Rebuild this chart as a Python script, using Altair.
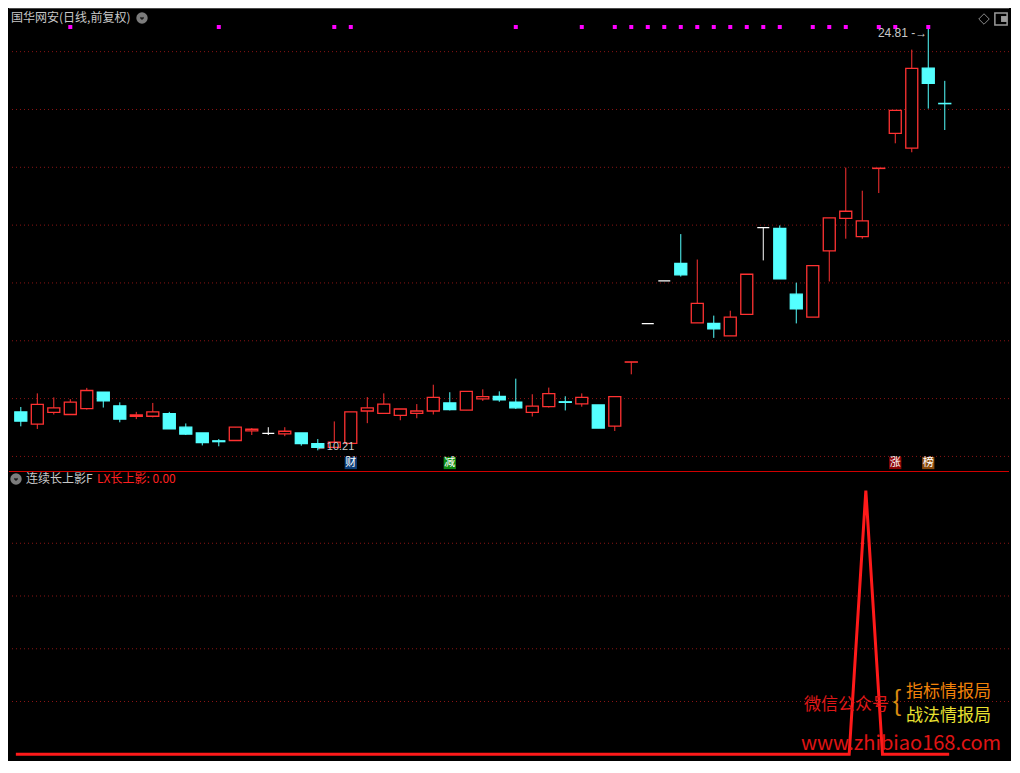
import altair as alt
import pandas as pd

# ---- data ----
opens = [11.54, 11.12, 11.52, 11.45, 11.65, 12.22, 11.75, 11.39, 11.39, 11.48,
         11.01, 10.81, 10.54, 10.55, 10.88, 10.80, 10.78, 10.81, 10.44, 10.31,
         10.45, 11.57, 11.49, 11.42, 11.49, 11.57, 11.85, 11.60, 11.99, 12.08,
         11.88, 11.52, 11.72, 11.89, 11.82, 11.78, 11.05, 13.26, 14.59, 16.07,
         16.68, 14.62, 14.60, 14.17, 14.91, 17.91, 17.89, 15.61, 14.82, 17.11,
         18.23, 17.60, 19.96, 21.17, 20.66, 23.43, 22.21]
closes = [11.22, 11.80, 11.68, 11.88, 12.28, 11.92, 11.29, 11.44, 11.54, 10.95,
          10.77, 10.48, 10.51, 11.01, 10.94, 10.80, 10.87, 10.44, 10.31, 10.49,
          11.54, 11.68, 11.81, 11.64, 11.57, 12.04, 11.62, 12.25, 12.07, 11.96,
          11.68, 11.74, 12.17, 11.87, 12.04, 10.98, 12.07, 13.27, 14.59, 16.07,
          16.28, 15.29, 14.41, 14.82, 16.30, 17.91, 16.14, 15.10, 16.60, 18.25,
          18.48, 18.15, 19.97, 21.97, 23.42, 22.90, 22.20]
highs = [11.71, 12.18, 12.04, 11.98, 12.37, 12.22, 11.87, 11.54, 11.85, 11.54,
         11.14, 10.81, 10.60, 11.01, 10.98, 11.01, 11.01, 10.81, 10.60, 11.21,
         11.54, 12.05, 12.18, 11.64, 11.81, 12.48, 12.22, 12.25, 12.32, 12.25,
         12.69, 12.15, 12.38, 12.08, 12.18, 11.78, 12.07, 13.27, 14.59, 16.07,
         17.69, 16.81, 14.87, 15.04, 16.30, 17.91, 17.99, 16.01, 16.60, 18.25,
         19.99, 19.19, 19.97, 21.97, 24.07, 24.81, 22.99]
lows = [11.04, 10.95, 11.45, 11.45, 11.62, 11.69, 11.18, 11.29, 11.35, 10.95,
        10.74, 10.38, 10.35, 10.55, 10.74, 10.74, 10.70, 10.37, 10.21, 10.31,
        10.45, 11.15, 11.49, 11.25, 11.32, 11.45, 11.59, 11.60, 11.92, 11.89,
        11.64, 11.38, 11.69, 11.59, 11.72, 10.98, 10.88, 12.84, 14.59, 16.07,
        16.22, 14.62, 14.10, 14.17, 14.91, 16.78, 16.14, 14.60, 14.82, 16.05,
        17.53, 17.53, 19.11, 20.83, 20.52, 22.03, 21.29]

lx_values = [0] * 51 + [1] + [0] * 5          # LX长上影 indicator

signal_dots = [3, 12, 19, 20, 30, 34, 36, 37, 38, 39, 40, 41, 42, 43, 44, 45, 46,
               48, 49, 50, 52, 53, 55]

marker_idx = [20, 26, 53, 55]
marker_txt = ["财", "减", "涨", "榜"]
marker_kind = ["cai", "jian", "zhang", "bang"]

main_grid = [10, 12, 14, 16, 18, 20, 22, 24]
low_grid = [0.2, 0.4, 0.6, 0.8]

title_main = "国华网安(日线,前复权)"
title_low = "连续长上影F"
title_low_val = "LX长上影: 0.00"

# ---- frames ----
n = len(opens)
df = pd.DataFrame({"i": list(range(n)), "O": opens, "C": closes, "H": highs, "L": lows})
df["dir"] = ["up" if c > o else ("down" if c < o else "flat") for o, c in zip(opens, closes)]
dots_df = pd.DataFrame({"i": signal_dots})
mk_df = pd.DataFrame({"i": marker_idx, "t": marker_txt, "k": marker_kind})
lx_df = pd.DataFrame({"i": list(range(n)), "v": lx_values})

W = 1000
H1 = 462
H2 = 288
FONT = "Noto Sans CJK SC"
RED = "#ff3232"
CYAN = "#54ffff"

xs = alt.Scale(domain=[-0.412, 59.59], nice=False, zero=False)
ys = alt.Scale(domain=[9.53, 25.51], nice=False, zero=False)
ys2 = alt.Scale(domain=[-0.018, 1.074], nice=False, zero=False)
X = alt.X("i:Q", scale=xs, axis=None)

dir_dom = ["up", "down", "flat"]

grid_m = alt.Chart(pd.DataFrame({"g": main_grid})).mark_rule(
    color="#8a1414", strokeDash=[1, 3], strokeWidth=1
).encode(y=alt.Y("g:Q", scale=ys, axis=None))

top_line = alt.Chart(pd.DataFrame({"a": [0]})).mark_rule(color="#4a4a4a").encode(y=alt.value(0.5))

wicks = alt.Chart(df).mark_rule(strokeWidth=1).encode(
    x=X,
    y=alt.Y("L:Q", scale=ys, axis=None),
    y2="H:Q",
    stroke=alt.Stroke("dir:N", scale=alt.Scale(domain=dir_dom, range=[RED, CYAN, "#ffffff"]), legend=None),
)

bodies = alt.Chart(df).mark_bar(size=12, strokeWidth=1.3).encode(
    x=X,
    y=alt.Y("O:Q", scale=ys, axis=None),
    y2="C:Q",
    fill=alt.Fill("dir:N", scale=alt.Scale(domain=dir_dom, range=["#000000", CYAN, "#ffffff"]), legend=None),
    stroke=alt.Stroke("dir:N", scale=alt.Scale(domain=dir_dom, range=[RED, CYAN, "#ffffff"]), legend=None),
)

dots = alt.Chart(dots_df).mark_square(size=16, color="#ff00ff", opacity=1).encode(x=X, y=alt.value(19))

mk_bg = alt.Chart(mk_df).mark_square(size=150, opacity=1).encode(
    x=X, y=alt.value(455),
    color=alt.Color("k:N", scale=alt.Scale(domain=marker_kind,
                    range=["#0d3d78", "#0e8a12", "#8e0606", "#8a4a0c"]), legend=None),
)
mk_tx = alt.Chart(mk_df).mark_text(font=FONT, fontSize=11, color="#ffffff", baseline="middle").encode(
    x=X, y=alt.value(455), text="t:N")

hi_df = pd.DataFrame({"i": [55], "v": [24.81], "t": ["24.81 -→"]})
hi_lab = alt.Chart(hi_df).mark_text(font="Liberation Sans", fontSize=12, color="#c8c8c8",
                                    align="right", baseline="middle", dx=-1, dy=5).encode(
    x=X, y=alt.Y("v:Q", scale=ys, axis=None), text="t:N")

lo_df = pd.DataFrame({"i": [18], "v": [10.21], "t": ["←10.21"]})
lo_lab = alt.Chart(lo_df).mark_text(font="Liberation Sans", fontSize=11, color="#c8c8c8",
                                    align="left", baseline="middle", dx=-2, dy=-3).encode(
    x=X, y=alt.Y("v:Q", scale=ys, axis=None), text="t:N")

t_main = alt.Chart(pd.DataFrame({"t": [title_main]})).mark_text(
    font=FONT, fontSize=12, color="#c8c8c8", align="left", baseline="middle").encode(
    x=alt.value(2), y=alt.value(10), text="t:N")

circ = alt.Chart(pd.DataFrame({"a": [0]})).mark_point(filled=True, size=130, color="#7c7c7c", opacity=1)
chev_shape = "M-0.5,-0.2L0,0.3L0.5,-0.2"
chev = alt.Chart(pd.DataFrame({"a": [0]})).mark_point(shape=chev_shape, size=40, color="#1a1a1a",
                                                     strokeWidth=1.6, filled=False, opacity=1)
drop1 = circ.encode(x=alt.value(133), y=alt.value(10))
drop1c = chev.encode(x=alt.value(133), y=alt.value(10))

diamond = alt.Chart(pd.DataFrame({"a": [0]})).mark_point(shape="diamond", size=110, color="#8a8a8a",
                                                        filled=False, strokeWidth=1, opacity=1).encode(
    x=alt.value(975), y=alt.value(11))
sq = alt.Chart(pd.DataFrame({"a": [0]})).mark_point(shape="square", size=150, color="#9a9a9a",
                                                   filled=False, strokeWidth=1.5, opacity=1).encode(
    x=alt.value(992), y=alt.value(11))
sq_in = alt.Chart(pd.DataFrame({"a": [0]})).mark_point(shape="square", size=35, color="#9a9a9a",
                                                      filled=True, opacity=1).encode(
    x=alt.value(995), y=alt.value(11))

main = alt.layer(grid_m, top_line, wicks, bodies, dots, mk_bg, mk_tx, hi_lab, lo_lab,
                 t_main, drop1, drop1c, diamond, sq, sq_in).resolve_scale(
    color="independent", fill="independent", stroke="independent"
).properties(width=W, height=H1)

# ---- lower panel ----
sep = alt.Chart(pd.DataFrame({"a": [0]})).mark_rule(color="#d00000", strokeWidth=1.2).encode(y=alt.value(0.5))
grid_l = alt.Chart(pd.DataFrame({"g": low_grid})).mark_rule(
    color="#8a1414", strokeDash=[1, 3], strokeWidth=1
).encode(y=alt.Y("g:Q", scale=ys2, axis=None))
lx_line = alt.Chart(lx_df).mark_line(color="#ff1a1a", strokeWidth=3).encode(
    x=X, y=alt.Y("v:Q", scale=ys2, axis=None))

drop2 = circ.encode(x=alt.value(7), y=alt.value(8))
drop2c = chev.encode(x=alt.value(7), y=alt.value(8))
t_low = alt.Chart(pd.DataFrame({"t": [title_low]})).mark_text(
    font=FONT, fontSize=12, color="#c8c8c8", align="left", baseline="middle").encode(
    x=alt.value(17), y=alt.value(8), text="t:N")
t_low2 = alt.Chart(pd.DataFrame({"t": [title_low_val]})).mark_text(
    font=FONT, fontSize=12, color="#ff2020", align="left", baseline="middle").encode(
    x=alt.value(88), y=alt.value(8), text="t:N")

wm1 = alt.Chart(pd.DataFrame({"t": ["微信公众号"]})).mark_text(
    font=FONT, fontSize=17, color="#e01818", align="right", baseline="middle").encode(
    x=alt.value(880), y=alt.value(234), text="t:N")
wm_b = alt.Chart(pd.DataFrame({"t": ["{"]})).mark_text(
    font=FONT, fontSize=28, color="#d88a10", align="center", baseline="middle", fontWeight="normal").encode(
    x=alt.value(888), y=alt.value(232), text="t:N")
wm2 = alt.Chart(pd.DataFrame({"t": ["指标情报局"]})).mark_text(
    font=FONT, fontSize=17, color="#f0820a", align="left", baseline="middle").encode(
    x=alt.value(897), y=alt.value(221), text="t:N")
wm3 = alt.Chart(pd.DataFrame({"t": ["战法情报局"]})).mark_text(
    font=FONT, fontSize=17, color="#e8e030", align="left", baseline="middle").encode(
    x=alt.value(897), y=alt.value(245), text="t:N")
wm4 = alt.Chart(pd.DataFrame({"t": ["www.zhibiao168.com"]})).mark_text(
    font=FONT, fontSize=20, color="#e01414", align="left", baseline="middle").encode(
    x=alt.value(792), y=alt.value(273), text="t:N")

lower = alt.layer(sep, grid_l, lx_line, drop2, drop2c, t_low, t_low2, wm1, wm_b, wm2, wm3, wm4).properties(
    width=W, height=H2)

chart = alt.vconcat(main, lower, spacing=0).properties(padding=0).configure(
    background="#000000"
).configure_view(stroke=None)

chart.save("out.html", embed_options={"renderer": "svg", "actions": False})
